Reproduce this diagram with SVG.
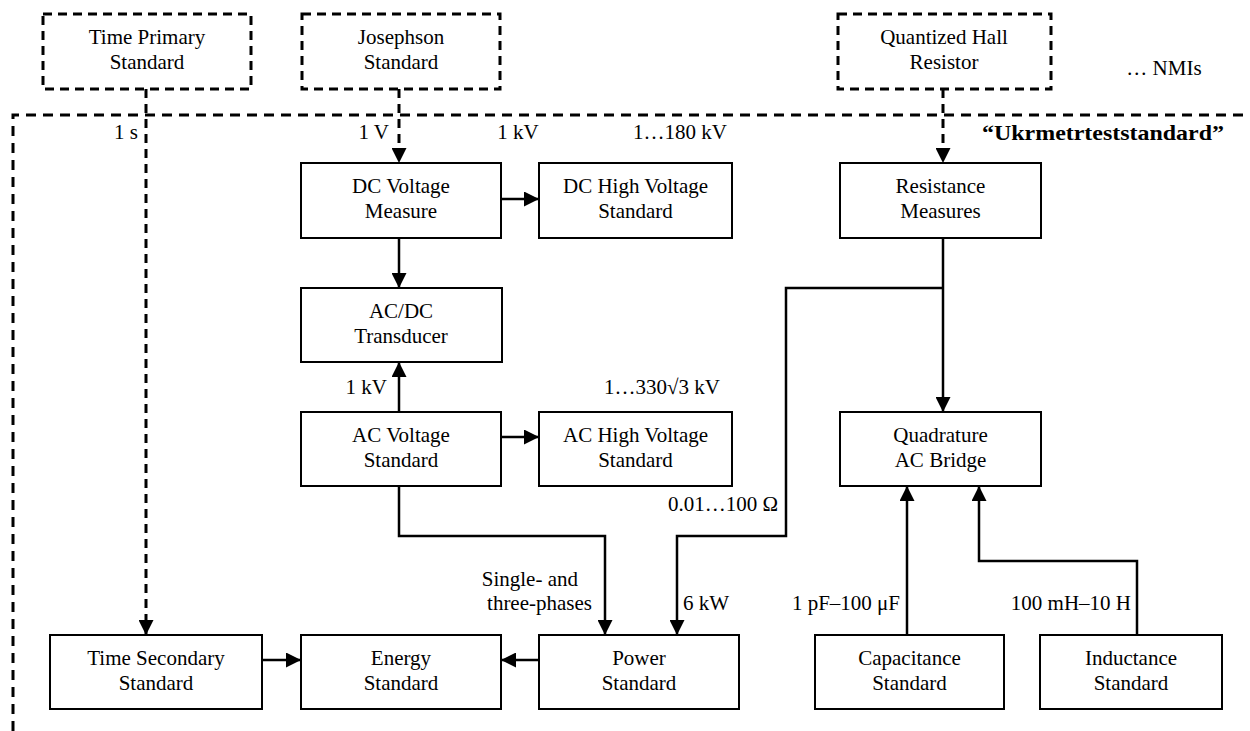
<svg xmlns="http://www.w3.org/2000/svg" width="1250" height="731" viewBox="0 0 1250 731">
<style>
  text { font-family: "Liberation Serif", "Times New Roman", serif; font-size: 21px; fill: #000; }
  .c { text-anchor: middle; }
  .e { text-anchor: end; }
  .box { fill: #fff; stroke: #000; stroke-width: 2; }
  .dbox { fill: #fff; stroke: #000; stroke-width: 3; stroke-dasharray: 9 6; }
  .line { fill: none; stroke: #000; stroke-width: 2.5; }
  .dline { fill: none; stroke: #000; stroke-width: 3; stroke-dasharray: 9 6; }
  .frame { fill: none; stroke: #000; stroke-width: 3; stroke-dasharray: 10 7; }
  .bold { font-weight: bold; }
</style>
<defs>
  <marker id="arr" markerUnits="userSpaceOnUse" markerWidth="15" markerHeight="15" refX="15" refY="7.5" orient="auto">
    <path d="M0,0 L15,7.5 L0,15 z" fill="#000"/>
  </marker>
</defs>
<rect width="1250" height="731" fill="#fff"/>

<g id="frame">
  <polyline class="frame" points="13,731 13,115 1250,115"/>
  <text class="bold" x="982" y="140" font-size="22" textLength="242" lengthAdjust="spacingAndGlyphs">“Ukrmetrteststandard”</text>
  <text x="1164" y="75" class="c">… NMIs</text>
</g>

<g id="connectors">
  <line class="dline" x1="146" y1="89" x2="146" y2="635" marker-end="url(#arr)"/>
  <line class="dline" x1="399" y1="89" x2="399" y2="163" marker-end="url(#arr)"/>
  <line class="dline" x1="943" y1="89" x2="943" y2="163" marker-end="url(#arr)"/>
  <line class="line" x1="501" y1="199" x2="539" y2="199" marker-end="url(#arr)"/>
  <line class="line" x1="399" y1="238" x2="399" y2="288" marker-end="url(#arr)"/>
  <line class="line" x1="399" y1="412" x2="399" y2="362" marker-end="url(#arr)"/>
  <line class="line" x1="501" y1="437" x2="539" y2="437" marker-end="url(#arr)"/>
  <polyline class="line" points="399,486 399,536 605,536 605,635" marker-end="url(#arr)"/>
  <line class="line" x1="943" y1="238" x2="943" y2="412" marker-end="url(#arr)"/>
  <polyline class="line" points="943,288 786,288 786,536 677,536 677,635" marker-end="url(#arr)"/>
  <line class="line" x1="262" y1="660" x2="301" y2="660" marker-end="url(#arr)"/>
  <line class="line" x1="539" y1="660" x2="501" y2="660" marker-end="url(#arr)"/>
  <line class="line" x1="907" y1="635" x2="907" y2="486" marker-end="url(#arr)"/>
  <polyline class="line" points="1137,635 1137,561 979,561 979,486" marker-end="url(#arr)"/>
</g>

<g id="labels">
  <text x="138" y="139" class="e">1 s</text>
  <text x="389" y="139" class="e">1 V</text>
  <text x="518" y="139" class="c">1 kV</text>
  <text x="680" y="139" class="c">1…180 kV</text>
  <text x="387" y="394" class="e">1 kV</text>
  <text x="662" y="394" class="c">1…330√3 kV</text>
  <text x="778" y="511" class="e">0.01…100 Ω</text>
  <text x="578" y="586" class="e">Single- and</text>
  <text x="592" y="610" class="e">three-phases</text>
  <text x="683" y="610">6 kW</text>
  <text x="900" y="610" class="e">1 pF–100 μF</text>
  <text x="1131" y="610" class="e">100 mH–10 H</text>
</g>

<g id="time-primary">
  <rect class="dbox" x="43" y="14" width="208" height="75"/>
  <text x="147" y="44" class="c">Time Primary</text>
  <text x="147" y="69" class="c">Standard</text>
</g>
<g id="josephson">
  <rect class="dbox" x="302" y="14" width="198" height="75"/>
  <text x="401" y="44" class="c">Josephson</text>
  <text x="401" y="69" class="c">Standard</text>
</g>
<g id="hall">
  <rect class="dbox" x="838" y="14" width="213" height="75"/>
  <text x="944" y="44" class="c">Quantized Hall</text>
  <text x="944" y="69" class="c">Resistor</text>
</g>

<g id="dc-voltage">
  <rect class="box" x="301" y="163" width="200" height="75"/>
  <text x="401" y="193" class="c">DC Voltage</text>
  <text x="401" y="218" class="c">Measure</text>
</g>
<g id="dc-hv">
  <rect class="box" x="539" y="163" width="193" height="75"/>
  <text x="635.5" y="193" class="c">DC High Voltage</text>
  <text x="635.5" y="218" class="c">Standard</text>
</g>
<g id="resistance">
  <rect class="box" x="840" y="163" width="201" height="75"/>
  <text x="940.5" y="193" class="c">Resistance</text>
  <text x="940.5" y="218" class="c">Measures</text>
</g>
<g id="acdc">
  <rect class="box" x="301" y="288" width="201" height="74"/>
  <text x="401" y="318" class="c">AC/DC</text>
  <text x="401" y="343" class="c">Transducer</text>
</g>
<g id="ac-voltage">
  <rect class="box" x="301" y="412" width="200" height="74"/>
  <text x="401" y="442" class="c">AC Voltage</text>
  <text x="401" y="467" class="c">Standard</text>
</g>
<g id="ac-hv">
  <rect class="box" x="539" y="412" width="193" height="74"/>
  <text x="635.5" y="442" class="c">AC High Voltage</text>
  <text x="635.5" y="467" class="c">Standard</text>
</g>
<g id="quadrature">
  <rect class="box" x="840" y="412" width="201" height="74"/>
  <text x="940.5" y="442" class="c">Quadrature</text>
  <text x="940.5" y="467" class="c">AC Bridge</text>
</g>
<g id="time-secondary">
  <rect class="box" x="50" y="635" width="212" height="74"/>
  <text x="156" y="665" class="c">Time Secondary</text>
  <text x="156" y="690" class="c">Standard</text>
</g>
<g id="energy">
  <rect class="box" x="301" y="635" width="200" height="74"/>
  <text x="401" y="665" class="c">Energy</text>
  <text x="401" y="690" class="c">Standard</text>
</g>
<g id="power">
  <rect class="box" x="539" y="635" width="200" height="74"/>
  <text x="639" y="665" class="c">Power</text>
  <text x="639" y="690" class="c">Standard</text>
</g>
<g id="capacitance">
  <rect class="box" x="815" y="635" width="189" height="74"/>
  <text x="909.5" y="665" class="c">Capacitance</text>
  <text x="909.5" y="690" class="c">Standard</text>
</g>
<g id="inductance">
  <rect class="box" x="1040" y="635" width="182" height="74"/>
  <text x="1131" y="665" class="c">Inductance</text>
  <text x="1131" y="690" class="c">Standard</text>
</g>
</svg>
